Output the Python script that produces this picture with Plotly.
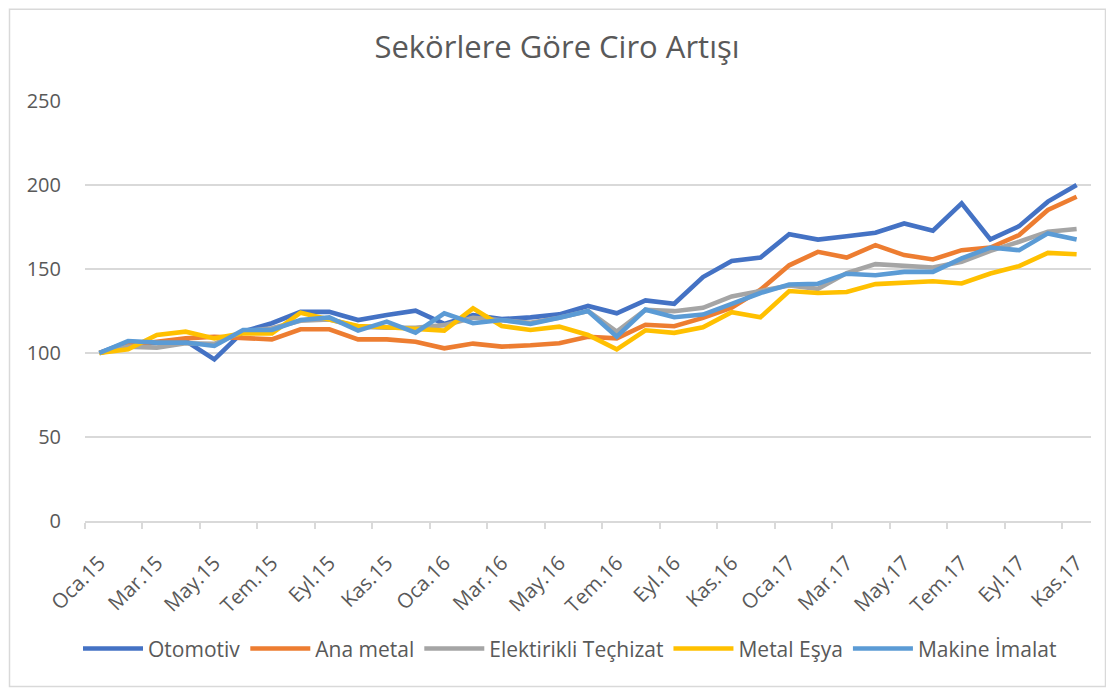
import plotly.graph_objects as go

months = ["Oca", "Şub", "Mar", "Nis", "May", "Haz", "Tem", "Ağu", "Eyl", "Eki", "Kas", "Ara"]
categories = [f"{m}.{y}" for y in ("15", "16", "17") for m in months][:35]

otomotiv = [100, 106.5, 106, 107.3, 96.2, 112.7, 117.7, 124.5, 124.5, 119.6,
            122.6, 125.2, 117.3, 122.6, 120.2, 121.2, 123, 128, 123.6, 131.3,
            129.3, 145.2, 154.8, 156.8, 170.7, 167.5, 169.5,
            171.6, 177.1, 172.8, 189.1, 167.6, 175.5, 190.1, 200]
ana_metal = [100, 104.8, 106.7, 108.7, 109.7, 108.7, 108.1, 114.1, 114.1, 108.1,
             108.1, 106.7, 102.8, 105.6, 103.8, 104.6, 105.8, 109.7, 108.7, 116.8,
             115.9, 120.9, 127, 137.6, 152.2, 160.2, 156.8,
             164.2, 158.3, 155.7, 161.2, 162.8, 170.2, 185.1, 193]
elektrikli = [100, 103.8, 103.2, 105.8, 105.5, 112.7, 114.7, 119.2, 120, 115.7,
              115, 115, 116.6, 121, 119.5, 118, 121, 125, 112.7, 125.7,
              124.9, 126.9, 133.7, 137.3, 140.2, 138.2, 147.6,
              152.9, 151.9, 150.9, 154.3, 160.8, 166.2, 172.2, 173.8]
metal_esya = [100, 102.2, 110.7, 112.7, 108.7, 111.7, 111.7, 124, 120, 116.1,
              115.3, 114.1, 113.3, 126.6, 116.1, 113.7, 115.7, 110.7, 102.2, 113.5,
              112, 115.3, 124.3, 121.3, 136.9, 135.7, 136.3,
              141, 141.7, 142.7, 141.4, 147.3, 151.7, 159.6, 158.8]
makine = [100, 107.1, 106.2, 106.2, 104.2, 113.7, 113.7, 119.6, 121.2, 113.3,
          118.7, 112.1, 123.6, 117.7, 119.6, 117.3, 121, 125, 109.7, 125.8,
          121.3, 122.9, 129.3, 135.7, 140.8, 141.2, 147.2,
          146.3, 148.3, 148.3, 156.3, 162.8, 161.2, 171.2, 167.6]

series_names = ["Otomotiv", "Ana metal", "Elektirikli Teçhizat", "Metal Eşya", "Makine İmalat"]
series_values = [otomotiv, ana_metal, elektrikli, metal_esya, makine]
colors = ["#4472C4", "#ED7D31", "#A5A5A5", "#FFC000", "#5B9BD5"]

# the page body adds an 8px offset; figure is sized to fill the rest of the window
OFF = 8
W, H = 1114 - OFF, 688 - OFF
PLOT_L, PLOT_R, PLOT_T, PLOT_B = 85, 1091, 100.7, 521   # page pixel edges of plot area
ML = PLOT_L - OFF
MR = W - (PLOT_R - OFF)
MT = PLOT_T - OFF
MB = H - (PLOT_B - OFF)
pw = W - ML - MR
ph = H - MT - MB


def px_to_paper_x(px):
    return (px - OFF - ML) / pw


def py_to_paper_y(py):
    return (H - MB - (py - OFF)) / ph


fig = go.Figure()
for name, vals, col in zip(series_names, series_values, colors):
    fig.add_trace(go.Scatter(x=categories, y=vals, mode="lines", name=name,
                             line=dict(color=col, width=4.6)))

fig.add_shape(type="rect", xref="paper", yref="paper",
              x0=px_to_paper_x(9.5), x1=px_to_paper_x(1105.5),
              y0=py_to_paper_y(686.5), y1=py_to_paper_y(8.8),
              line=dict(color="#D9D9D9", width=1.5), fillcolor="rgba(0,0,0,0)", layer="above")

fig.update_layout(
    width=W, height=H,
    margin=dict(l=ML, r=MR, t=MT, b=MB),
    paper_bgcolor="white", plot_bgcolor="white",
    font=dict(family="Open Sans", color="#595959"),
    title=dict(text="Sekörlere Göre Ciro Artışı", x=(557 - OFF) / W, xanchor="center",
               y=1 - (47 - OFF) / H, yanchor="middle", yref="container",
               font=dict(size=31, color="#595959", family="Open Sans")),
    legend=dict(orientation="h", x=px_to_paper_x(570), xanchor="center",
                y=py_to_paper_y(649), yanchor="middle",
                font=dict(size=21, color="#595959"), itemwidth=60),
    xaxis=dict(type="category", tickangle=-45, dtick=2, tickson="boundaries",
               ticks="outside", ticklen=6, tickcolor="#D9D9D9", tickwidth=1.5,
               showline=True, linecolor="#D9D9D9", linewidth=1.5,
               showgrid=False, tickfont=dict(size=20.5, color="#595959"),
               ticklabelstandoff=20, range=[-0.5, 34.5]),
    yaxis=dict(range=[0, 250], dtick=50, showgrid=True, gridcolor="#D9D9D9",
               gridwidth=1.5, zeroline=False, showline=False, ticks="",
               tickfont=dict(size=20, color="#595959"), ticklabelstandoff=23),
)

fig.write_html("out.html")
